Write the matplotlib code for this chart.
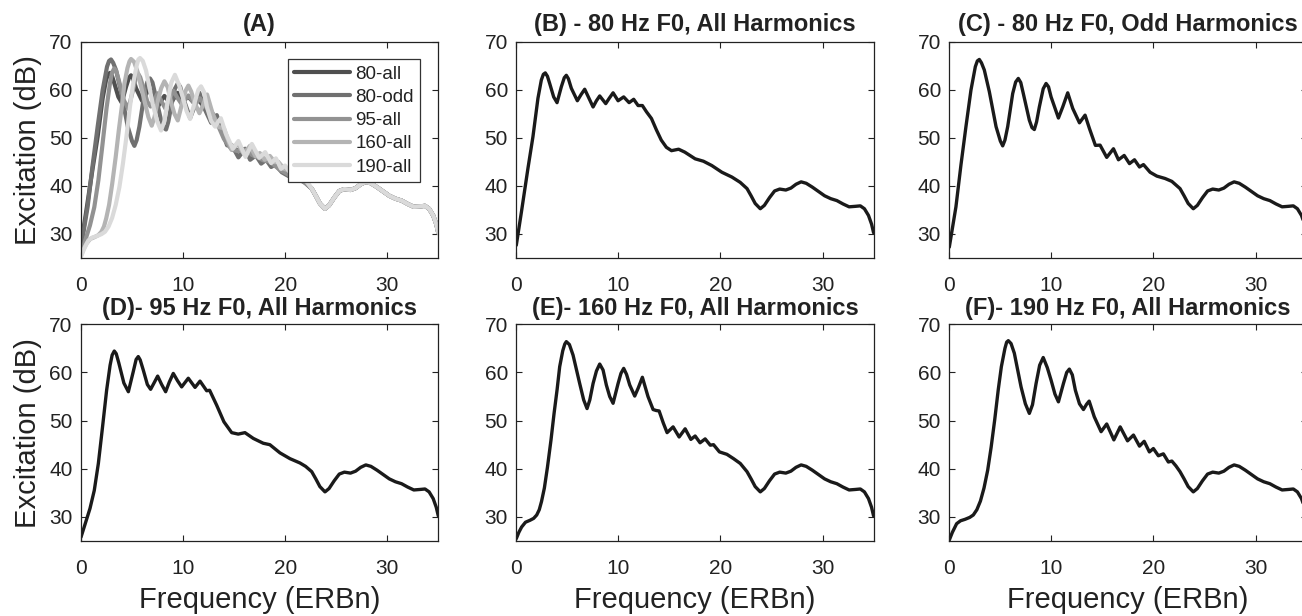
import matplotlib
matplotlib.use('Agg')
import matplotlib.pyplot as plt
import numpy as np

plt.rcParams['font.family'] = ['Liberation Sans', 'DejaVu Sans']

# ---------------- data ----------------
# common high-frequency tail (ERBn >= 22.6), identical for all conditions
tail_x = [22.6, 23.0, 23.4, 23.9, 24.3, 24.8, 25.3, 25.8, 26.4, 26.9, 27.4, 27.9, 28.4,
          29.0, 29.6, 30.2, 30.8, 31.4, 32.0, 32.6, 33.2, 33.7, 34.1, 34.5, 34.8, 35.0]
tail_y = [39.4, 37.9, 36.3, 35.2, 35.9, 37.5, 38.9, 39.3, 39.1, 39.5, 40.3, 40.8, 40.5,
          39.7, 38.8, 37.9, 37.3, 36.9, 36.2, 35.6, 35.7, 35.8, 35.2, 33.8, 32.0, 30.2]

# 80 Hz F0, all harmonics
x_80all = [0, 0.5, 1.14, 1.63, 2.12, 2.45, 2.65, 2.84, 3.05, 3.27, 3.66, 3.99, 4.41, 4.7,
           4.9, 5.1, 5.39, 5.98, 6.35, 6.7, 7.1, 7.52, 7.85, 8.17, 8.76, 9.1, 9.48, 9.97,
           10.52, 11.05, 11.5, 11.93, 12.35, 12.75, 13.24, 13.73, 14.2, 14.7, 15.2, 15.9,
           16.5, 17.52, 18.33, 19.15, 20.14, 21.12, 21.93]
y_80all = [27.6, 34.5, 43.6, 50.2, 58.2, 62.0, 63.2, 63.5, 62.8, 61.3, 58.5, 57.3, 60.6, 62.5,
           63.0, 62.3, 60.3, 57.7, 59.0, 60.1, 58.3, 56.4, 57.7, 58.7, 57.1, 58.2, 59.35, 57.7,
           58.5, 57.3, 58.0, 56.7, 56.7, 55.4, 54.0, 51.6, 49.5, 48.0, 47.3, 47.6,
           47.0, 45.6, 45.1, 44.2, 42.8, 41.8, 40.7]

# 80 Hz F0, odd harmonics
x_80odd = [0, 0.65, 1.14, 1.63, 2.12, 2.55, 2.75, 2.94, 3.15, 3.43, 3.92, 4.58, 5.0, 5.23,
           5.45, 5.72, 6.21, 6.5, 6.76, 7.0, 7.25, 7.84, 8.1, 8.33, 8.55, 8.82, 9.2, 9.48,
           9.72, 9.97, 10.69, 11.11, 11.6, 12.09, 12.75, 13.3, 13.73,
           14.31, 14.77, 15.42, 16.08, 16.57, 17.13, 17.65, 18.14, 18.63, 19.02, 19.67, 20.33,
           21.14, 21.8]
y_80odd = [27.2, 35.6, 44.3, 52.3, 59.9, 64.8, 66.0, 66.3, 65.6, 64.1, 59.6, 52.3, 49.3, 48.3,
           49.5, 52.3, 59.2, 61.6, 62.35, 61.5, 59.2, 53.65, 52.1, 51.7, 53.3, 56.4, 60.2, 61.3,
           60.6, 58.5, 54.1, 56.4, 59.35, 56.1, 53.1, 54.7, 51.9,
           48.4, 48.45, 45.9, 47.7, 45.4, 46.3, 44.6, 45.4, 43.9, 44.4, 42.8, 42.0,
           41.5, 40.9]

# 95 Hz F0, all harmonics
x_95all = [0, 0.4, 0.88, 1.3, 1.7, 2.1, 2.51, 2.85, 3.05, 3.26, 3.45, 3.7, 4.2, 4.64, 5.1,
           5.4, 5.61, 5.8, 6.1, 6.5, 6.82, 7.15, 7.51, 7.9, 8.29, 8.65, 9.04, 9.45, 9.86,
           10.51, 11.17, 11.66, 12.31, 12.6, 13.29, 14.0, 14.76, 15.4, 16.06, 16.88, 17.85,
           18.5, 19.49, 20.47, 21.45, 22.0]
y_95all = [25.8, 28.5, 31.75, 35.5, 41.1, 48.5, 56.3, 61.5, 63.6, 64.45, 63.9, 62.0, 57.8,
           56.0, 60.0, 62.7, 63.3, 62.6, 60.5, 57.5, 56.5, 57.8, 59.25, 57.5, 56.0, 58.0,
           59.8, 58.3, 57.0, 58.8, 56.9, 58.2, 56.2, 56.3, 53.2, 49.75, 47.5, 47.2, 47.5,
           46.3, 45.3, 45.0, 43.3, 42.1, 41.2, 40.5]

# 160 Hz F0, all harmonics
x_160all = [0, 0.25, 0.52, 0.9, 1.34, 1.7, 2.0, 2.25, 2.47, 2.75, 3.05, 3.4, 3.7, 4.0, 4.25,
            4.55, 4.75, 4.9, 5.2, 5.56, 6.21, 6.6, 6.93, 7.2, 7.52, 7.85, 8.17, 8.5, 8.82,
            9.15, 9.48, 9.97, 10.25, 10.52, 10.8, 11.11, 11.6, 11.95, 12.35, 12.9, 13.4,
            13.7, 13.99, 14.4, 14.77, 15.36, 15.95, 16.54, 17.1, 17.52, 18.0, 18.5, 19.0,
            19.32, 19.9, 20.63, 21.28, 21.94]
y_160all = [25.5, 26.8, 27.9, 28.9, 29.3, 29.7, 30.4, 31.5, 33.2, 36.0, 40.3, 46.0, 51.5,
            56.5, 61.2, 64.5, 65.9, 66.4, 65.8, 63.6, 57.7, 54.3, 52.5, 54.3, 57.7, 60.3,
            61.75, 60.5, 57.4, 55.0, 53.6, 57.7, 59.8, 60.85, 59.6, 57.4, 55.1, 56.8, 59.0,
            55.0, 52.3, 52.1, 52.0, 49.5, 47.5, 48.7, 46.6, 48.3, 46.1, 46.8, 45.4, 46.2,
            44.9, 45.0, 43.5, 43.0, 42.1, 41.1]

# 190 Hz F0, all harmonics
x_190all = [0, 0.3, 0.72, 1.1, 1.54, 2.0, 2.35, 2.7, 3.05, 3.4, 3.76, 4.1, 4.45, 4.8, 5.1,
            5.45, 5.62, 5.78, 6.05, 6.37, 6.7, 7.03, 7.45, 7.84, 8.15, 8.5, 8.85, 9.2, 9.6,
            9.97, 10.35, 10.69, 11.18, 11.5, 11.76, 12.05, 12.35, 12.75, 13.14, 13.45, 13.7,
            14.2, 14.87, 15.42, 16.12, 16.74, 17.46, 18.04, 18.63, 19.09, 19.6, 19.99,
            20.48, 20.97, 21.46, 21.8, 22.2]
y_190all = [25.2, 26.8, 28.6, 29.2, 29.5, 29.9, 30.4, 31.5, 33.3, 36.0, 39.7, 44.5, 50.2,
            56.5, 61.2, 65.0, 66.3, 66.6, 66.0, 64.0, 60.5, 57.0, 53.5, 51.5, 53.3, 57.7,
            61.5, 63.1, 61.0, 58.4, 55.5, 53.9, 57.7, 60.0, 60.7, 59.5, 56.3, 53.5, 52.3,
            53.4, 54.05, 50.8, 47.7, 49.3, 46.0, 48.7, 45.8, 47.0, 44.7, 45.7, 43.5, 44.2,
            42.7, 43.1, 41.4, 41.6, 40.6]

labels = ['80-all', '80-odd', '95-all', '160-all', '190-all']
titles = ['(B) - 80 Hz F0, All Harmonics', '(C) - 80 Hz F0, Odd Harmonics',
          '(D)- 95 Hz F0, All Harmonics', '(E)- 160 Hz F0, All Harmonics',
          '(F)- 190 Hz F0, All Harmonics']
xticks = [0, 10, 20, 30]
yticks = [30, 40, 50, 60, 70]

heads = [(x_80all, y_80all), (x_80odd, y_80odd), (x_95all, y_95all),
         (x_160all, y_160all), (x_190all, y_190all)]
curves = [(np.array(hx + tail_x), np.array(hy + tail_y)) for hx, hy in heads]

grays = ['#4f4f4f', '#707070', '#929292', '#b4b4b4', '#dadada']
dark = '#222222'

# ---------------- layout ----------------
W, H = 1302, 616
fig = plt.figure(figsize=(W / 100, H / 100), dpi=100)


def ax_at(left, top, width, height):
    return fig.add_axes([left / W, 1 - (top + height) / H, width / W, height / H])


lefts = [81, 516.3, 949.3]
wid = 357.3
tops = [41.7, 324.3]
hts = [216.0, 216.7]


def style(ax):
    ax.set_xlim(0, 35)
    ax.set_ylim(25, 70)
    ax.set_xticks(xticks)
    ax.set_yticks(yticks)
    ax.tick_params(direction='in', top=True, right=True, length=4, width=0.8,
                   labelsize=15, colors=dark)
    ax.tick_params(axis='x', pad=13)
    ax.tick_params(axis='y', pad=6)
    for s in ax.spines.values():
        s.set_color(dark)
        s.set_linewidth(0.9)


axes = []
for r in range(2):
    for c in range(3):
        ax = ax_at(lefts[c], tops[r], wid, hts[r])
        style(ax)
        axes.append(ax)

# Panel A: all conditions overlaid
axA = axes[0]
for (cx, cy), g, lab in zip(curves, grays, labels):
    axA.plot(cx, cy, color=g, lw=3.0, label=lab, solid_joinstyle='round',
             solid_capstyle='round')
axA.set_title('(A)', fontsize=17, fontweight='bold', pad=8, color=dark)
leg = axA.legend(loc='upper right', bbox_to_anchor=(0.949, 0.918), borderaxespad=0,
                 fontsize=13.5, handlelength=3.0, handletextpad=0.3, labelspacing=0.33,
                 borderpad=0.32, fancybox=False, framealpha=1, edgecolor='#333333')
leg.get_frame().set_linewidth(0.9)
for t in leg.get_texts():
    t.set_color(dark)

# Panels B-F
for i, ax in enumerate(axes[1:]):
    cx, cy = curves[i]
    ax.plot(cx, cy, color='#1a1a1a', lw=2.4, solid_joinstyle='round',
            solid_capstyle='round')
    pad = 8 if i < 2 else 6.5
    ax.set_title(titles[i], fontsize=17, fontweight='bold', pad=pad, color=dark)

for ax in (axes[0], axes[3]):
    ax.set_ylabel('Excitation (dB)', fontsize=21, color=dark, labelpad=5)
for ax in axes[3:]:
    ax.set_xlabel('Frequency (ERBn)', fontsize=21, color=dark, labelpad=6)

fig.savefig('out.png', dpi=100)
